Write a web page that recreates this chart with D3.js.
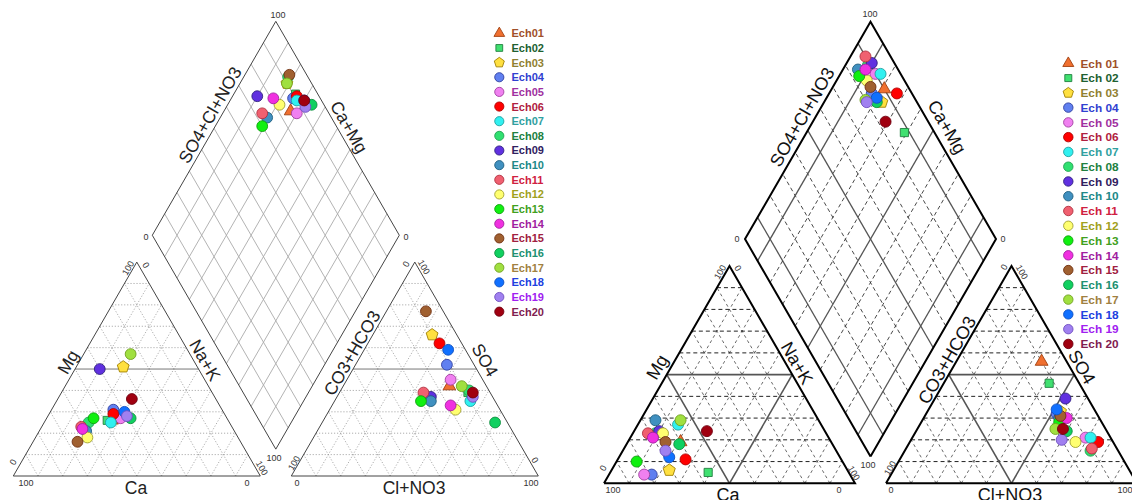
<!DOCTYPE html>
<html>
<head>
<meta charset="utf-8">
<script src="https://cdn.jsdelivr.net/npm/d3@7"></script>
<style>
  body { margin: 0; background: #fff; }
  svg { display: block; font-family: Arial, 'Liberation Sans', sans-serif; }
</style>
</head>
<body>
<svg id="chart" width="1132" height="500"></svg>
<script>
// samples
const names1 = ['Ech01','Ech02','Ech03','Ech04','Ech05','Ech06','Ech07','Ech08','Ech09','Ech10',
  'Ech11','Ech12','Ech13','Ech14','Ech15','Ech16','Ech17','Ech18','Ech19','Ech20'];
const names2 = ['Ech 01','Ech 02','Ech 03','Ech 04','Ech 05','Ech 06','Ech 07','Ech 08','Ech 09','Ech 10',
  'Ech 11','Ech 12','Ech 13','Ech 14','Ech 15','Ech 16','Ech 17','Ech 18','Ech 19','Ech 20'];
const shapes = ['triangle','square','pentagon','circle','circle','circle','circle','circle','circle','circle',
  'circle','circle','circle','circle','circle','circle','circle','circle','circle','circle'];
const fills = ['#f07030','#40e070','#ffe040','#6080f0','#f080f0','#ff0000','#30f0f0','#30e070','#6030e0','#4090c0',
  '#f06070','#ffff70','#10f010','#f030e0','#a06030','#10d060','#a0e040','#1070ff','#a080f0','#a00010'];
const strokes = ['#a04010','#208040','#a08000','#3040a0','#a040a0','#b00000','#20a0a0','#20a050','#302080','#206080',
  '#b03040','#a0a030','#10a010','#a020a0','#703010','#109040','#70a020','#1050c0','#7050c0','#700010'];
const textColors = ['#a0502a','#206030','#908030','#3040d0','#a030a0','#b02040','#30a0a0','#208040','#302060','#208888',
  '#d02040','#a0a020','#40a020','#a020a0','#a02040','#209070','#a08040','#2040e0','#a020f0','#802050'];

// left diagram (meq %)
const caL   = [47,49,30,44,43,45,48,57,40,60,61,61,54,61,66,39,24,40,40,34];
const mgL   = [26,26,51,31,27,29,25,25,50,21,23,18,27,22,16,27,57,30,28,36];
const nakL  = [27,25,19,25,30,26,27,18,10,19,16,21,19,17,18,34,19,30,32,30];
const hco3L = [15, 9,10,11,13, 9,10, 8,25,26,27,18,30,19, 7, 5,10, 7, 8, 7];
const so4L  = [42,39,66,52,45,62,35,40,37,35,39,31,35,33,77,25,42,59,37,39];
const clL   = [43,52,24,37,42,29,55,52,38,39,34,51,35,48,16,70,48,34,55,54];

// right diagram (meq %)
const caR   = [60,56,71,79,82,62,57,68,66,65,71,65,82,70,66,61,55,68,68,47];
const mgR   = [19, 5, 6, 4, 4,11,27,23,24,29,23,23,10,21,19,18,29,12,15,24];
const nakR  = [21,39,23,17,14,27,16, 9,10, 6, 6,12, 8, 9,15,21,16,20,17,29];
const hco3R = [10,12,14,16,10, 6, 8,11, 9,16,10,15,17,13,15,16,20,15,20,17];
const so4R  = [56,46,33,32,21,19,21,15,39,30,16,19,28,30,31,24,25,34,20,25];
const clR   = [34,42,53,52,69,75,71,74,52,54,74,66,55,57,54,60,55,51,60,58];

const svg = d3.select('#chart');
const H = Math.sqrt(3) / 2;

const symbolPentagon = {
  draw(ctx, size) {
    const r = Math.sqrt(size / 2.378);
    for (let k = 0; k < 5; k++) {
      const a = -Math.PI / 2 + k * 2 * Math.PI / 5;
      if (k) ctx.lineTo(r * Math.cos(a), r * Math.sin(a));
      else ctx.moveTo(r * Math.cos(a), r * Math.sin(a));
    }
    ctx.closePath();
  }
};
function symbolPath(shape, size) {
  const t = shape === 'triangle' ? d3.symbolTriangle
    : shape === 'square' ? d3.symbolSquare
    : shape === 'pentagon' ? symbolPentagon : d3.symbolCircle;
  const k = shape === 'square' ? 0.7 : shape === 'triangle' ? 0.75 : 1;
  return d3.symbol().type(t).size(size * k)();
}

function piper(o) {
  const g = svg.append('g');
  const side = o.side;
  const s = d3.scaleLinear().domain([0, 100]).range([0, side]);
  const xa = o.x0 + side + o.gap;
  const bx = o.x0 + side + o.gap / 2, by = o.baseY - o.gap * H;

  const cat = (mg, nak) => [o.x0 + s(nak + mg / 2), o.baseY - s(mg) * H];
  const an = (so4, cl) => [xa + s(cl + so4 / 2), o.baseY - s(so4) * H];
  const dia = (u, v) => [bx + (s(v) - s(u)) / 2, by - (s(u) + s(v)) * H];

  const line = d3.line();
  const ticks = d3.range(10, 100, 10);

  function seg(pts, style) {
    const p = g.append('path').attr('d', line(pts)).attr('fill', 'none');
    Object.entries(style).forEach(([k, v]) => p.attr(k, v));
  }

  // triangle grids
  [cat, an].forEach(f => {
    ticks.forEach(i => {
      seg([f(i, 0), f(i, 100 - i)], i === 50 ? o.mid : o.gridH);
      seg([f(0, i), f(100 - i, i)], i === 50 && o.inner ? o.mid : o.gridD);
      seg([f(0, 100 - i), f(100 - i, 0)], i === 50 && o.inner ? o.mid : o.gridD);
    });
  });
  // diamond grid
  ticks.forEach(i => {
    seg([dia(i, 0), dia(i, 100)], o.diaStyle(i));
    seg([dia(0, i), dia(100, i)], o.diaStyle(i));
  });
  // outlines
  seg([cat(0, 0), cat(100, 0), cat(0, 100), cat(0, 0)], o.edge);
  seg([an(0, 0), an(100, 0), an(0, 100), an(0, 0)], o.edge);
  seg([dia(0, 0), dia(100, 0), dia(100, 100), dia(0, 100), dia(0, 0)], o.edge);

  // labels
  o.labels.forEach(l => {
    g.append('text')
      .attr('transform', `translate(${l.x},${l.y}) rotate(${l.r || 0})`)
      .attr('text-anchor', 'middle')
      .attr('dy', '0.35em')
      .attr('fill', l.big ? o.labelColor : o.tickColor)
      .style('font-size', (l.big ? o.labelSize : o.tickSize) + 'px')
      .text(l.t);
  });

  // points
  const d = o.data;
  const pct = (a, b, c) => { const t = a + b + c; return [a / t * 100, b / t * 100, c / t * 100]; };
  const rows = d.ca.map((_, i) => {
    const [ca, mg, nak] = pct(d.ca[i], d.mg[i], d.nak[i]);
    const [hc, so4, cl] = pct(d.hco3[i], d.so4[i], d.cl[i]);
    return { i, ca, mg, nak, hc, so4, cl };
  });
  const mark = (sel, pos) => sel.selectAll(null).data(rows).enter().append('path')
    .attr('d', r => symbolPath(shapes[r.i], o.ptSize))
    .attr('transform', r => `translate(${pos(r)})`)
    .attr('fill', r => fills[r.i])
    .attr('stroke', r => strokes[r.i])
    .attr('stroke-width', 0.9);
  const pg = g.append('g');
  mark(pg.append('g'), r => cat(r.mg, r.nak));
  mark(pg.append('g'), r => an(r.so4, r.cl));
  mark(pg.append('g'), r => dia(r.ca + r.mg, r.so4 + r.cl));

  // legend
  const lg = g.append('g');
  o.names.forEach((n, i) => {
    const y = o.leg.y0 + i * o.leg.dy;
    lg.append('path')
      .attr('d', symbolPath(shapes[i], o.leg.size))
      .attr('transform', `translate(${o.leg.x},${y})`)
      .attr('fill', fills[i]).attr('stroke', strokes[i]).attr('stroke-width', 0.9);
    lg.append('text')
      .attr('x', o.leg.tx).attr('y', y).attr('dy', '0.36em')
      .attr('fill', textColors[i])
      .style('font-size', o.leg.font + 'px').style('font-weight', 'bold')
      .text(n);
  });
}

// left Piper
piper({
  x0: 13.3, baseY: 476, side: 247, gap: 31,
  edge: { stroke: '#444', 'stroke-width': 1 },
  gridH: { stroke: '#999', 'stroke-width': 0.8, 'stroke-dasharray': '1.2,1.8' },
  gridD: { stroke: '#999', 'stroke-width': 0.8, 'stroke-dasharray': '1.2,1.8' },
  mid: { stroke: '#777', 'stroke-width': 1 },
  inner: false,
  diaStyle: i => ({ stroke: '#aaa', 'stroke-width': 0.9 }),
  labelColor: '#222', tickColor: '#333', labelSize: 17.5, tickSize: 9,
  ptSize: 92,
  data: { ca: caL, mg: mgL, nak: nakL, hco3: hco3L, so4: so4L, cl: clL },
  names: names1,
  leg: { x: 499.3, tx: 511.5, y0: 33.3, dy: 14.65, size: 66, font: 11 },
  labels: [
    { t: '100', x: 278, y: 15 }, { t: '0', x: 146, y: 237 }, { t: '0', x: 406, y: 237 },
    { t: 'SO4+Cl+NO3', x: 210, y: 115, r: -60, big: 1 },
    { t: 'Ca+Mg', x: 349, y: 127, r: 60, big: 1 },
    { t: 'Mg', x: 68, y: 362, r: -60, big: 1 },
    { t: 'Na+K', x: 205, y: 360, r: 60, big: 1 },
    { t: 'Ca', x: 136, y: 488, big: 1 },
    { t: '100', x: 26, y: 483 }, { t: '0', x: 247, y: 483 },
    { t: '0', x: 13, y: 462, r: -60 }, { t: '100', x: 128, y: 268, r: -60 },
    { t: '0', x: 146, y: 265, r: 60 }, { t: '100', x: 262, y: 468, r: 60 },
    { t: '100', x: 274, y: 458 },
    { t: 'CO3+HCO3', x: 352, y: 353, r: -60, big: 1 },
    { t: 'SO4', x: 485, y: 360, r: 60, big: 1 },
    { t: 'Cl+NO3', x: 414, y: 488, big: 1 },
    { t: '0', x: 297, y: 483 }, { t: '100', x: 531, y: 483 },
    { t: '100', x: 294, y: 463, r: -60 }, { t: '0', x: 406, y: 264, r: -60 },
    { t: '100', x: 424, y: 267, r: 60 }, { t: '0', x: 535, y: 460, r: 60 }
  ]
});

// right Piper
piper({
  x0: 604, baseY: 483.3, side: 251, gap: 31,
  edge: { stroke: '#000', 'stroke-width': 2 },
  gridH: { stroke: '#222', 'stroke-width': 1, 'stroke-dasharray': '4,3' },
  gridD: { stroke: '#444', 'stroke-width': 0.8, 'stroke-dasharray': '3,3' },
  mid: { stroke: '#555', 'stroke-width': 1.6 },
  inner: true,
  diaStyle: i => (i === 10 || i === 50 || i === 90) ? { stroke: '#555', 'stroke-width': 1.3 }
    : { stroke: '#333', 'stroke-width': 0.9, 'stroke-dasharray': '4,3' },
  labelColor: '#111', tickColor: '#333', labelSize: 18, tickSize: 9,
  ptSize: 95,
  data: { ca: caR, mg: mgR, nak: nakR, hco3: hco3R, so4: so4R, cl: clR },
  names: names2,
  leg: { x: 1068.3, tx: 1080.5, y0: 63.3, dy: 14.77, size: 70, font: 11.8 },
  labels: [
    { t: '100', x: 870, y: 14 }, { t: '0', x: 737, y: 239 }, { t: '0', x: 1003, y: 239 },
    { t: 'SO4+Cl+NO3', x: 802, y: 117, r: -60, big: 1 },
    { t: 'Ca+Mg', x: 947, y: 127, r: 60, big: 1 },
    { t: 'Mg', x: 657, y: 367, r: -60, big: 1 },
    { t: 'Na+K', x: 797, y: 363, r: 60, big: 1 },
    { t: 'Ca', x: 728, y: 495, big: 1 },
    { t: '100', x: 613, y: 490 }, { t: '0', x: 839, y: 490 },
    { t: '0', x: 603, y: 468, r: -60 }, { t: '100', x: 720, y: 272, r: -60 },
    { t: '0', x: 738, y: 268, r: 60 }, { t: '100', x: 854, y: 473, r: 60 },
    { t: '100', x: 868, y: 465 },
    { t: 'CO3+HCO3', x: 947, y: 360, r: -60, big: 1 },
    { t: 'SO4', x: 1082, y: 367, r: 60, big: 1 },
    { t: 'Cl+NO3', x: 1010, y: 495, big: 1 },
    { t: '0', x: 891, y: 490 }, { t: '100', x: 1125, y: 490 },
    { t: '100', x: 890, y: 468, r: -60 }, { t: '0', x: 1004, y: 267, r: -60 },
    { t: '100', x: 1022, y: 272, r: 60 }
  ]
});
</script>
</body>
</html>
